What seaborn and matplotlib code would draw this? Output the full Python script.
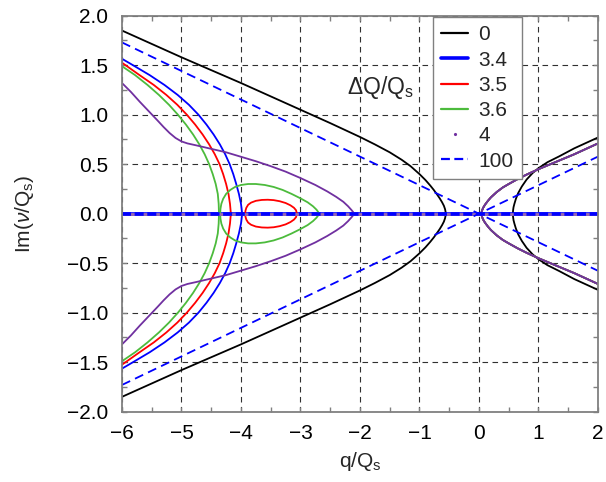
import numpy as np
import matplotlib
matplotlib.use("Agg")
import matplotlib.pyplot as plt
from matplotlib.lines import Line2D
from matplotlib.ticker import MultipleLocator, FuncFormatter
import seaborn as sns

# ---- data: upper halves (Im > 0); roots come in complex-conjugate pairs ----
# dQ/Qs = 0
q_k_left = [-6.0, -5.0, -4.0, -3.0, -2.5, -2.0, -1.75, -1.5, -1.3, -1.15, -1.0, -0.9, -0.82,
            -0.76, -0.70, -0.66, -0.62, -0.59, -0.57, -0.562, -0.56]
im_k_left = [1.85, 1.58, 1.32, 1.05, 0.915, 0.775, 0.70, 0.62, 0.545, 0.48, 0.40, 0.34, 0.285,
             0.24, 0.19, 0.155, 0.115, 0.08, 0.045, 0.02, 0.0]
q_k_right = [0.57, 0.572, 0.58, 0.595, 0.62, 0.66, 0.72, 0.80, 0.90, 1.0, 1.15, 1.35, 1.6, 1.8, 2.0]
im_k_right = [0.0, 0.03, 0.065, 0.10, 0.15, 0.21, 0.275, 0.345, 0.41, 0.46, 0.52, 0.58, 0.66, 0.715, 0.77]

# dQ/Qs = 3.4
im_b_left = [0.0, 0.1, 0.2, 0.3, 0.4, 0.5, 0.6, 0.7, 0.8, 0.9, 1.0, 1.1, 1.2, 1.3, 1.4, 1.5, 1.565]
q_b_left = [-3.98, -4.0, -4.035, -4.08, -4.13, -4.19, -4.265, -4.355, -4.46, -4.58, -4.715,
            -4.875, -5.065, -5.285, -5.535, -5.815, -6.0]

# dQ/Qs = 3.5
im_r_left = [0.0, 0.1, 0.2, 0.3, 0.4, 0.5, 0.6, 0.7, 0.8, 0.9, 1.0, 1.1, 1.2, 1.3, 1.4, 1.5, 1.525]
q_r_left = [-4.17, -4.185, -4.21, -4.25, -4.30, -4.36, -4.44, -4.535, -4.645, -4.77, -4.91,
            -5.07, -5.255, -5.465, -5.705, -5.94, -6.0]
q_r_loop = [-3.93, -3.925, -3.91, -3.88, -3.83, -3.75, -3.65, -3.55, -3.45, -3.35, -3.25, -3.17,
            -3.11, -3.075, -3.06]
im_r_loop = [0.0, 0.03, 0.06, 0.09, 0.112, 0.13, 0.139, 0.141, 0.137, 0.126, 0.108, 0.085,
             0.06, 0.035, 0.0]

# dQ/Qs = 3.6
im_g_left = [0.0, 0.1, 0.2, 0.3, 0.4, 0.5, 0.6, 0.7, 0.8, 0.9, 1.0, 1.1, 1.2, 1.3, 1.4, 1.49]
q_g_left = [-4.37, -4.375, -4.39, -4.425, -4.475, -4.535, -4.61, -4.70, -4.805, -4.925, -5.06,
            -5.21, -5.38, -5.57, -5.78, -6.0]
q_g_loop = [-4.35, -4.345, -4.33, -4.30, -4.25, -4.18, -4.10, -4.0, -3.88, -3.75, -3.6, -3.45,
            -3.3, -3.15, -3.0, -2.88, -2.79, -2.73, -2.70, -2.69]
im_g_loop = [0.0, 0.05, 0.10, 0.15, 0.20, 0.24, 0.27, 0.29, 0.30, 0.30, 0.29, 0.27, 0.24, 0.20,
             0.155, 0.115, 0.075, 0.04, 0.015, 0.0]

# dQ/Qs = 4
q_p_left = [-6.0, -5.85, -5.7, -5.55, -5.4, -5.3, -5.2, -5.1, -5.0, -4.9, -4.75, -4.5, -4.25,
            -4.0, -3.75, -3.5, -3.25, -3.0, -2.75, -2.55, -2.4, -2.28, -2.2, -2.14, -2.11, -2.10]
im_p_left = [1.32, 1.23, 1.13, 1.035, 0.94, 0.875, 0.815, 0.765, 0.73, 0.71, 0.69, 0.655, 0.62,
             0.575, 0.53, 0.48, 0.425, 0.36, 0.29, 0.225, 0.17, 0.12, 0.075, 0.035, 0.012, 0.0]
q_p_right = [0.04, 0.05, 0.07, 0.1, 0.15, 0.2, 0.3, 0.4, 0.5, 0.65, 0.8, 1.0, 1.2, 1.4, 1.6, 1.8, 2.0]
im_p_right = [0.0, 0.03, 0.06, 0.09, 0.13, 0.165, 0.22, 0.265, 0.30, 0.35, 0.395, 0.45, 0.50,
              0.55, 0.60, 0.655, 0.71]

# dQ/Qs = 100
q_d = [-6.0, 2.0]
im_d = [1.73, -0.577]

# real roots, present for every dQ/Qs
q_axis = [-6.0, 2.0]
im_axis = [0.0, 0.0]

legend_labels = ["0", "3.4", "3.5", "3.6", "4", "100"]
colors = {"0": "black", "3.4": "#0000ff", "3.5": "#ff0000", "3.6": "#4cbb3c",
          "4": "#7030a0", "100": "#0000ff"}

# ---- styling ----
sns.set_theme(style="ticks")
plt.rcParams["font.family"] = ["Liberation Sans", "DejaVu Sans"]
plt.rcParams["mathtext.fontset"] = "custom"
plt.rcParams["mathtext.rm"] = "Liberation Sans"
plt.rcParams["mathtext.it"] = "Liberation Sans:italic"

fig = plt.figure(figsize=(6.06, 4.82), dpi=100)
ax = fig.add_axes([0.2013, 0.1459, 0.7855, 0.8215])


def draw(q, im, color, lw, ls="-", mirror=True, closed=False):
    q = np.asarray(q, float)
    im = np.asarray(im, float)
    if closed:
        xs = np.concatenate([q, q[::-1]])
        ys = np.concatenate([im, -im[::-1]])
        sns.lineplot(x=xs, y=ys, sort=False, estimator=None, color=color, lw=lw, ls=ls, ax=ax)
        return
    sns.lineplot(x=q, y=im, sort=False, estimator=None, color=color, lw=lw, ls=ls, ax=ax)
    if mirror:
        sns.lineplot(x=q, y=-im, sort=False, estimator=None, color=color, lw=lw, ls=ls, ax=ax)


lw_thin = 1.3
# dQ/Qs = 0
draw(q_k_left, im_k_left, colors["0"], lw_thin)
draw(q_k_right, im_k_right, colors["0"], lw_thin)
draw(q_axis, im_axis, colors["0"], lw_thin, mirror=False)
# dQ/Qs = 3.4
draw(q_b_left, im_b_left, colors["3.4"], lw_thin)
draw(q_p_right, im_p_right, colors["3.4"], lw_thin)
draw(q_axis, im_axis, colors["3.4"], 2.6, mirror=False)
# dQ/Qs = 3.5
draw(q_r_left, im_r_left, colors["3.5"], lw_thin)
draw(q_r_loop, im_r_loop, colors["3.5"], lw_thin, closed=True)
draw(q_p_right, im_p_right, colors["3.5"], lw_thin)
# dQ/Qs = 3.6
draw(q_g_left, im_g_left, colors["3.6"], lw_thin)
draw(q_g_loop, im_g_loop, colors["3.6"], lw_thin, closed=True)
draw(q_p_right, im_p_right, colors["3.6"], lw_thin)
# dQ/Qs = 4
draw(q_p_left, im_p_left, colors["4"], lw_thin)
draw(q_p_right, im_p_right, colors["4"], lw_thin)
draw(q_axis, im_axis, "#9a6aae", 2.0, mirror=False)
# dQ/Qs = 100
draw(q_d, im_d, colors["100"], lw_thin, ls=(0, (5, 3)))
draw(q_axis, im_axis, colors["100"], 2.6, ls=(0, (2.5, 1)), mirror=False)

# ---- axes ----
ax.set_xlim(-6, 2)
ax.set_ylim(-2, 2)
ax.xaxis.set_major_locator(MultipleLocator(1))
ax.xaxis.set_minor_locator(MultipleLocator(0.5))
ax.yaxis.set_major_locator(MultipleLocator(0.5))
ax.yaxis.set_minor_locator(MultipleLocator(0.25))
ax.yaxis.set_major_formatter(FuncFormatter(lambda v, _: f"{v:.1f}".replace("-", "\u2212")))
ax.tick_params(which="both", direction="in", top=True, right=True, color="#808080",
               labelsize=15, labelcolor="black", length=3.6, width=1)
ax.tick_params(axis="y", which="major", pad=10)
ax.tick_params(axis="x", which="major", pad=9)
ax.grid(True, which="major", color="#303030", lw=0.8, ls=(0, (5, 4)))
for s in ax.spines.values():
    s.set_color("#808080")
    s.set_linewidth(1.3)

ax.set_xlabel(r"q/Q$_\mathregular{s}$", fontsize=15)
ax.set_ylabel(r"Im($\nu$/Q$_\mathregular{s}$)", fontsize=15)
ax.xaxis.set_label_coords(0.5, -0.098)
ax.yaxis.set_label_coords(-0.18, 0.5)

ax.text(-2.21, 1.27, r"$\Delta$Q/Q$_\mathregular{s}$", fontsize=16.5, va="center", ha="left")

handles = [
    Line2D([], [], color=colors["0"], lw=1.6),
    Line2D([], [], color=colors["3.4"], lw=2.6),
    Line2D([], [], color=colors["3.5"], lw=1.6),
    Line2D([], [], color=colors["3.6"], lw=1.6),
    Line2D([], [], color=colors["4"], ls="none", marker=".", markersize=2.5),
    Line2D([], [], color=colors["100"], lw=1.6, ls=(0, (4, 2))),
]
leg = ax.legend(handles, legend_labels, loc="upper right", bbox_to_anchor=(0.8403, 0.9967),
                borderaxespad=0, fontsize=15, frameon=True, fancybox=False,
                framealpha=1, edgecolor="#808080", handlelength=1.3, labelspacing=0.3,
                handletextpad=0.5, borderpad=0.4)
leg.get_frame().set_linewidth(1.0)

fig.savefig("out.png", dpi=100)
